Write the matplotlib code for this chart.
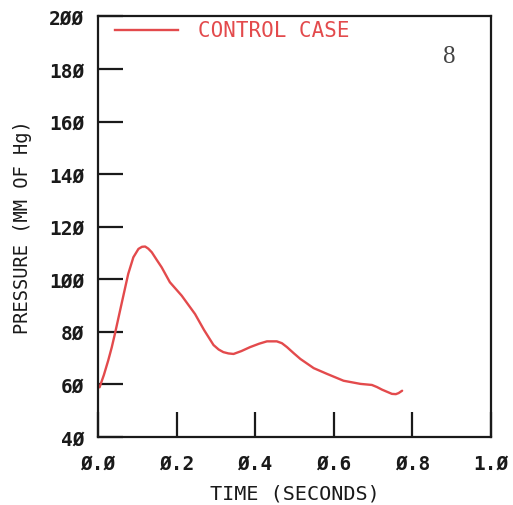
import matplotlib
matplotlib.use("Agg")
import matplotlib.pyplot as plt

# aortic pressure trace, control case
time_s = [0.004, 0.015, 0.026, 0.035, 0.043, 0.06, 0.077, 0.09, 0.103, 0.112, 0.12,
          0.128, 0.137, 0.15, 0.162, 0.183, 0.213, 0.247, 0.27, 0.294, 0.307,
          0.319, 0.332, 0.345, 0.365, 0.387, 0.41, 0.43, 0.455, 0.468, 0.481,
          0.498, 0.515, 0.549, 0.583, 0.625, 0.668, 0.697, 0.71, 0.723, 0.748,
          0.758, 0.765, 0.774]
pressure = [58.8, 63.5, 69.0, 74.0, 79.1, 90.6, 102.0, 108.3, 111.5, 112.3, 112.4,
            111.6, 110.2, 107.2, 104.5, 98.8, 93.7, 86.7, 80.6, 74.9, 73.2,
            72.2, 71.7, 71.5, 72.6, 74.1, 75.4, 76.3, 76.3, 75.6, 74.1,
            71.8, 69.6, 66.1, 63.9, 61.3, 60.1, 59.7, 58.9, 57.9, 56.3,
            56.2, 56.6, 57.5]

x_ticks = [0.0, 0.2, 0.4, 0.6, 0.8, 1.0]
x_tick_labels = ["Ø.Ø", "Ø.2", "Ø.4", "Ø.6", "Ø.8", "1.Ø"]
y_ticks = [40, 60, 80, 100, 120, 140, 160, 180, 200]
y_tick_labels = ["4Ø", "6Ø", "8Ø", "1ØØ", "12Ø", "14Ø", "16Ø", "18Ø", "2ØØ"]

line_red = "#e34a4c"
ink = "#1a1a1a"
mono = "DejaVu Sans Mono"

fig = plt.figure(figsize=(5.13, 5.06), dpi=100)
ax = fig.add_axes([0.191, 0.135, 0.766, 0.8305])

ax.plot(time_s, pressure, color=line_red, lw=1.7,
        solid_capstyle="round", solid_joinstyle="round")

ax.set_xlim(0, 1.0)
ax.set_ylim(40, 200)
ax.set_xticks(x_ticks)
ax.set_xticklabels(x_tick_labels, family=mono, fontsize=14, fontweight="bold", color=ink)
ax.set_yticks(y_ticks)
ax.set_yticklabels(y_tick_labels, family=mono, fontsize=14, fontweight="bold", color=ink)
ax.tick_params(direction="in", length=18, width=1.6, color=ink,
               top=False, right=False)
ax.tick_params(axis="x", pad=12)
ax.tick_params(axis="y", pad=10)
for side in ax.spines.values():
    side.set_linewidth(1.6)
    side.set_color(ink)

ax.set_xlabel("TIME (SECONDS)", family=mono, fontsize=14.5, color=ink, labelpad=8)
ax.set_ylabel("PRESSURE (MM OF Hg)", family=mono, fontsize=13.5, color=ink, labelpad=12)

# legend drawn by hand, like the plotter original
ax.plot([0.043, 0.204], [195.0, 195.0], color=line_red, lw=1.7)
ax.text(0.255, 195.0, "CONTROL CASE", family=mono, fontsize=15, color=line_red,
        va="center", ha="left")
ax.text(0.893, 185.0, "8", family="Liberation Serif", fontsize=18, color="#444444",
        va="center", ha="center")

fig.savefig("out.png", dpi=100)
